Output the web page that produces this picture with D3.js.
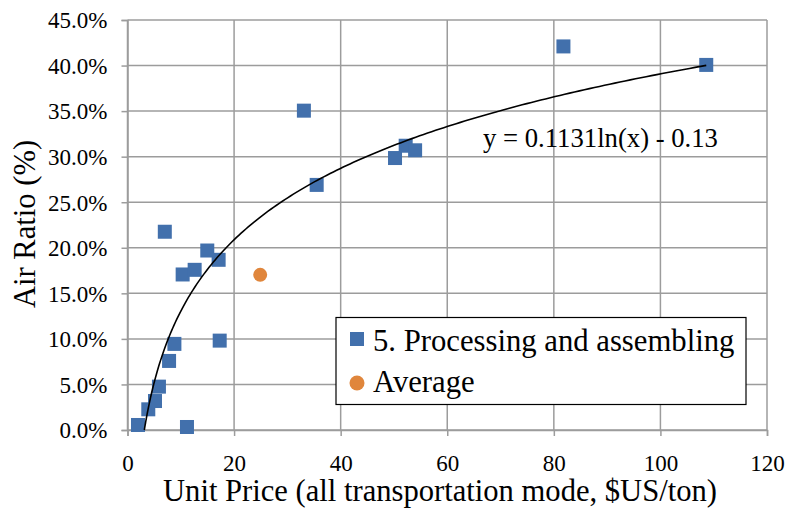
<!DOCTYPE html>
<html>
<head>
<meta charset="utf-8">
<script src="https://cdn.jsdelivr.net/npm/d3@7"></script>
<style>
  html, body { margin: 0; padding: 0; background: #fff; }
  svg { display: block; }
</style>
</head>
<body>
<svg id="chart" width="789" height="508"></svg>
<script>
// Unit price ($US/ton) and air share for group 5 products
const unitPrice = [1.97, 3.9, 5.16, 5.9, 7.8, 8.8, 7.0, 10.35, 12.6, 14.97, 17.1, 17.3, 11.16,
                   33.1, 35.5, 50.2, 52.2, 53.97, 81.8, 108.6];
const airRatio  = [0.0055, 0.0227, 0.0318, 0.0476, 0.0758, 0.0945, 0.2176, 0.1707, 0.1758, 0.197,
                   0.1868, 0.0981, 0.0033, 0.3505, 0.269, 0.2985, 0.312, 0.307, 0.421, 0.4007];

// Overall average point
const averagePrice = [24.9];
const averageRatio = [0.1703];

// Logarithmic trendline y = a ln(x) + b
const trendA = 0.1131;
const trendB = -0.13;
const trendLabel = "y = 0.1131ln(x) - 0.13";

const xTicks = [0, 20, 40, 60, 80, 100, 120];
const yTicks = [0, 0.05, 0.10, 0.15, 0.20, 0.25, 0.30, 0.35, 0.40, 0.45];
const seriesNames = ["5. Processing and assembling", "Average"];

const FONT = '"Liberation Serif", "Times New Roman", serif';

const svg = d3.select("#chart");
const x = d3.scaleLinear().domain([0, 120]).range([127.5, 767]);
const y = d3.scaleLinear().domain([0, 0.45]).range([430, 20]);

const gridColor = "#9c9c9c";
const blue = "#4270ac";
const orange = "#e0863c";

// Gridlines
svg.append("g").selectAll("line").data(yTicks).join("line")
  .attr("x1", x(0)).attr("x2", x(120))
  .attr("y1", d => y(d)).attr("y2", d => y(d))
  .attr("stroke", gridColor).attr("stroke-width", 1.5);
svg.append("g").selectAll("line").data(xTicks).join("line")
  .attr("x1", d => x(d)).attr("x2", d => x(d))
  .attr("y1", y(0)).attr("y2", y(0.45))
  .attr("stroke", gridColor).attr("stroke-width", 1.5);

// Axes
const xAxis = d3.axisBottom(x).tickValues(xTicks).tickSize(6).tickPadding(6)
  .tickFormat(d3.format("d"));
const gx = svg.append("g").attr("transform", `translate(0,${y(0)})`).call(xAxis);
gx.attr("font-family", null);
gx.select(".domain").attr("stroke", gridColor).attr("stroke-width", 1.5);
gx.selectAll(".tick line").attr("stroke", gridColor).attr("stroke-width", 1.5);
gx.selectAll(".tick text").style("font-family", FONT)
  .attr("font-size", 23).attr("fill", "#000").attr("dy", null).attr("y", 41);

const yAxis = d3.axisLeft(y).tickValues(yTicks).tickSize(6).tickPadding(14)
  .tickFormat(d3.format(".1%"));
const gy = svg.append("g").attr("transform", `translate(${x(0)},0)`).call(yAxis);
gy.attr("font-family", null);
gy.select(".domain").attr("stroke", gridColor).attr("stroke-width", 1.5);
gy.selectAll(".tick line").attr("stroke", gridColor).attr("stroke-width", 1.5);
gy.selectAll(".tick text").style("font-family", FONT)
  .attr("font-size", 23).attr("fill", "#000").attr("x", -20).attr("dy", "0.34em");

// Trendline from its zero crossing to the largest unit price
const xStart = Math.exp(-trendB / trendA);
const xEnd = d3.max(unitPrice);
const trendPts = d3.range(0, 201).map(i => {
  const xv = xStart + (xEnd - xStart) * Math.pow(i / 200, 2);
  return [xv, trendA * Math.log(xv) + trendB];
});

// Markers
const sq = 14;
svg.append("g").selectAll("rect").data(unitPrice.map((p, i) => [p, airRatio[i]])).join("rect")
  .attr("x", d => x(d[0]) - sq / 2).attr("y", d => y(d[1]) - sq / 2)
  .attr("width", sq).attr("height", sq).attr("fill", blue);
svg.append("g").selectAll("circle").data(averagePrice.map((p, i) => [p, averageRatio[i]])).join("circle")
  .attr("cx", d => x(d[0])).attr("cy", d => y(d[1])).attr("r", 7).attr("fill", orange);

svg.append("path").datum(trendPts)
  .attr("d", d3.line().x(d => x(d[0])).y(d => y(d[1])))
  .attr("fill", "none").attr("stroke", "#000").attr("stroke-width", 1.6);

svg.append("text").attr("x", 483).attr("y", 147).style("font-family", FONT)
  .attr("font-size", 26.7).attr("fill", "#000").text(trendLabel);

// Axis titles
svg.append("text").attr("x", 440).attr("y", 501)
  .attr("text-anchor", "middle").style("font-family", FONT).attr("font-size", 30.6).attr("fill", "#000")
  .text("Unit Price (all transportation mode, $US/ton)");
svg.append("text").attr("transform", `translate(35,${(y(0) + y(0.45)) / 2 - 1}) rotate(-90)`)
  .attr("text-anchor", "middle").style("font-family", FONT).attr("font-size", 30.6).attr("fill", "#000")
  .text("Air Ratio (%)");

// Legend
const lg = svg.append("g");
lg.append("rect").attr("x", 336).attr("y", 317.5).attr("width", 410).attr("height", 87)
  .attr("fill", "#fff").attr("stroke", "#000").attr("stroke-width", 1.2);
lg.append("rect").attr("x", 357 - 7).attr("y", 339 - 7).attr("width", 14).attr("height", 14).attr("fill", blue);
lg.append("circle").attr("cx", 357).attr("cy", 383).attr("r", 7.5).attr("fill", orange);
lg.selectAll("text").data(seriesNames).join("text")
  .attr("x", 373).attr("y", (d, i) => 350.5 + i * 41.5)
  .style("font-family", FONT).attr("font-size", 30.7).attr("fill", "#000").text(d => d);
</script>
</body>
</html>
